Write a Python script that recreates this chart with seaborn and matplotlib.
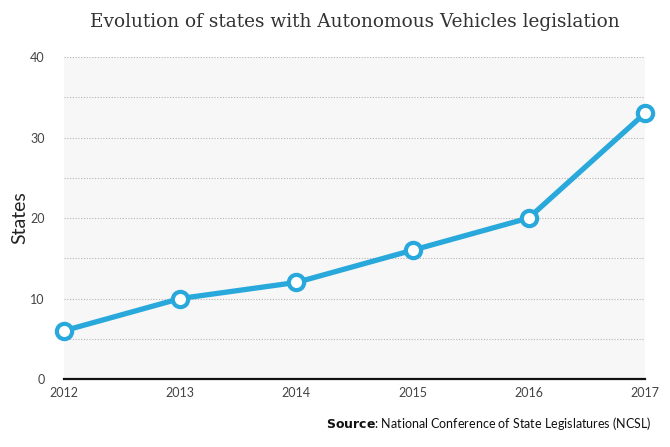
import numpy as np
import pandas as pd
import seaborn as sns
import matplotlib.pyplot as plt
from matplotlib.ticker import MultipleLocator

years = [2012, 2013, 2014, 2015, 2016, 2017]
states = [6, 10, 12, 16, 20, 33]
y_ticks = [0, 10, 20, 30, 40]

LINE_BLUE = "#29a8dc"
NARROW = ["Lato", "DejaVu Sans"]

sns.set_theme(style="white")
plt.rcParams["font.family"] = NARROW

df = pd.DataFrame({"year": years, "states": states})

fig = plt.figure(figsize=(6.7, 4.47), dpi=100)
ax = fig.add_axes([0.0955, 0.152, 0.867, 0.7205])
ax.set_facecolor("#f7f7f7")

sns.lineplot(data=df, x="year", y="states", ax=ax, color=LINE_BLUE, linewidth=3.8,
             marker="o", markersize=11, markerfacecolor="white",
             markeredgecolor=LINE_BLUE, markeredgewidth=3.0, clip_on=False, zorder=5)

ax.set_xlim(2012, 2017)
ax.set_ylim(0, 40)
ax.set_yticks(y_ticks)
ax.yaxis.set_minor_locator(MultipleLocator(5))
ax.set_xticks(years)
ax.set_xticklabels([str(y) for y in years])
ax.grid(True, which="both", axis="y", color="#b5b5b5", linestyle=(0, (1, 1.5)), linewidth=0.8)
ax.grid(False, axis="x")
ax.set_axisbelow(True)

for s in ["top", "right", "left"]:
    ax.spines[s].set_visible(False)
ax.spines["bottom"].set_color("#111111")
ax.spines["bottom"].set_linewidth(1.6)

ax.tick_params(axis="both", length=0, labelsize=9, colors="#444444")
ax.tick_params(axis="y", pad=14)
ax.tick_params(axis="x", pad=6)

ax.set_xlabel("")
ax.set_ylabel("States", fontsize=14, color="#222222")
ax.yaxis.set_label_coords(-0.062, 0.5)

# title centred over the plot area, not the whole figure
ax.text(0.5, 1.11, "Evolution of states with Autonomous Vehicles legislation",
        transform=ax.transAxes, ha="center", va="center", fontsize=13.3,
        color="#333333", family=["DejaVu Serif"])
fig.text(0.972, 0.052, r"$\bf{Source}$: National Conference of State Legislatures (NCSL)",
         ha="right", va="center", fontsize=9, color="#111111")

fig.savefig("out.png", dpi=100)
